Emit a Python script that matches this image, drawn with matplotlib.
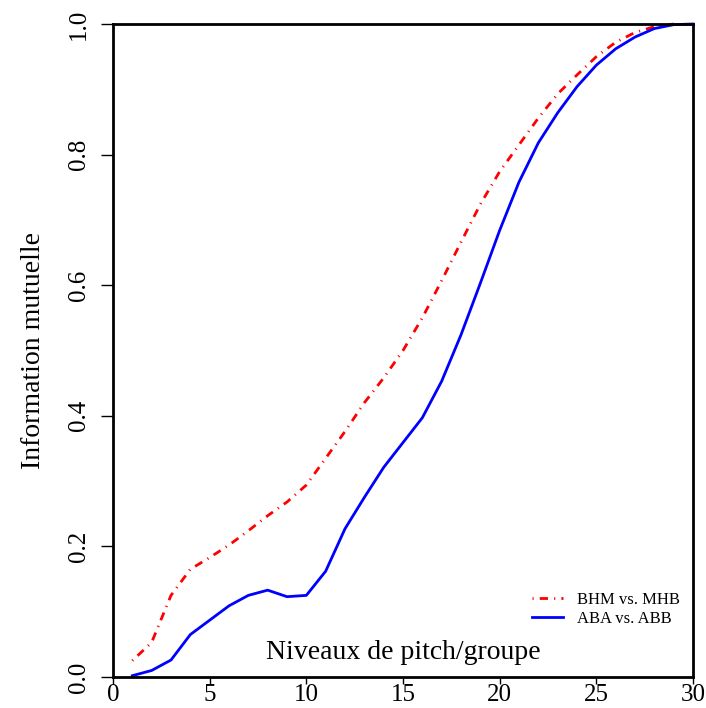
import matplotlib
matplotlib.use("Agg")
import matplotlib.pyplot as plt

plt.rcParams['font.family'] = ['Liberation Serif', 'DejaVu Serif']

# niveaux de pitch / groupe
x_red = list(range(1, 30))
x_blue = list(range(1, 31))

# BHM vs. MHB
red = [0.025, 0.053, 0.125, 0.165, 0.183, 0.202, 0.224, 0.247, 0.268, 0.294,
       0.335, 0.376, 0.420, 0.458, 0.500, 0.550, 0.607, 0.666, 0.724, 0.774,
       0.815, 0.856, 0.893, 0.922, 0.950, 0.972, 0.987, 0.996, 1.000]
# ABA vs. ABB
blue = [0.002, 0.010, 0.026, 0.065, 0.087, 0.109, 0.125, 0.133, 0.123, 0.125,
        0.162, 0.227, 0.275, 0.321, 0.359, 0.397, 0.453, 0.524, 0.603, 0.684,
        0.758, 0.818, 0.864, 0.904, 0.937, 0.962, 0.980, 0.993, 0.999, 1.000]

labels = ["BHM vs. MHB", "ABA vs. ABB"]

fig = plt.figure(figsize=(7.06, 7.08), dpi=100)
ax = fig.add_axes([113/706, 31/708, 580/706, 653/708])

ax.plot(x_red, red, color='red', lw=2, dashes=(0.4, 2.2, 3, 2.2),
        label=labels[0], clip_on=False)
ax.plot(x_blue, blue, color='blue', lw=2, label=labels[1], clip_on=False)

ax.set_xlim(0, 30)
ax.set_ylim(0, 1)
ax.set_xticks([0, 5, 10, 15, 20, 25, 30])
ax.set_yticks([0, 0.2, 0.4, 0.6, 0.8, 1.0])
ax.set_yticklabels(["0.0", "0.2", "0.4", "0.6", "0.8", "1.0"], rotation=90,
                   va='center')
ax.tick_params(axis='x', direction='out', length=5, width=1, labelsize=18, pad=0)
ax.tick_params(axis='y', direction='out', length=8.5, width=1, labelsize=18, pad=8)
for s in ax.spines.values():
    s.set_linewidth(2)

ax.set_ylabel("Information mutuelle", fontsize=20, labelpad=16)
ax.text(15, 0.0276, "Niveaux de pitch/groupe", ha='center', va='baseline',
        fontsize=20)

ax.legend(loc='lower right', bbox_to_anchor=(1.004, 0.054), frameon=False,
          fontsize=12, handlelength=1.9, handletextpad=0.85, labelspacing=0.15)

fig.savefig("out.png", dpi=100)
